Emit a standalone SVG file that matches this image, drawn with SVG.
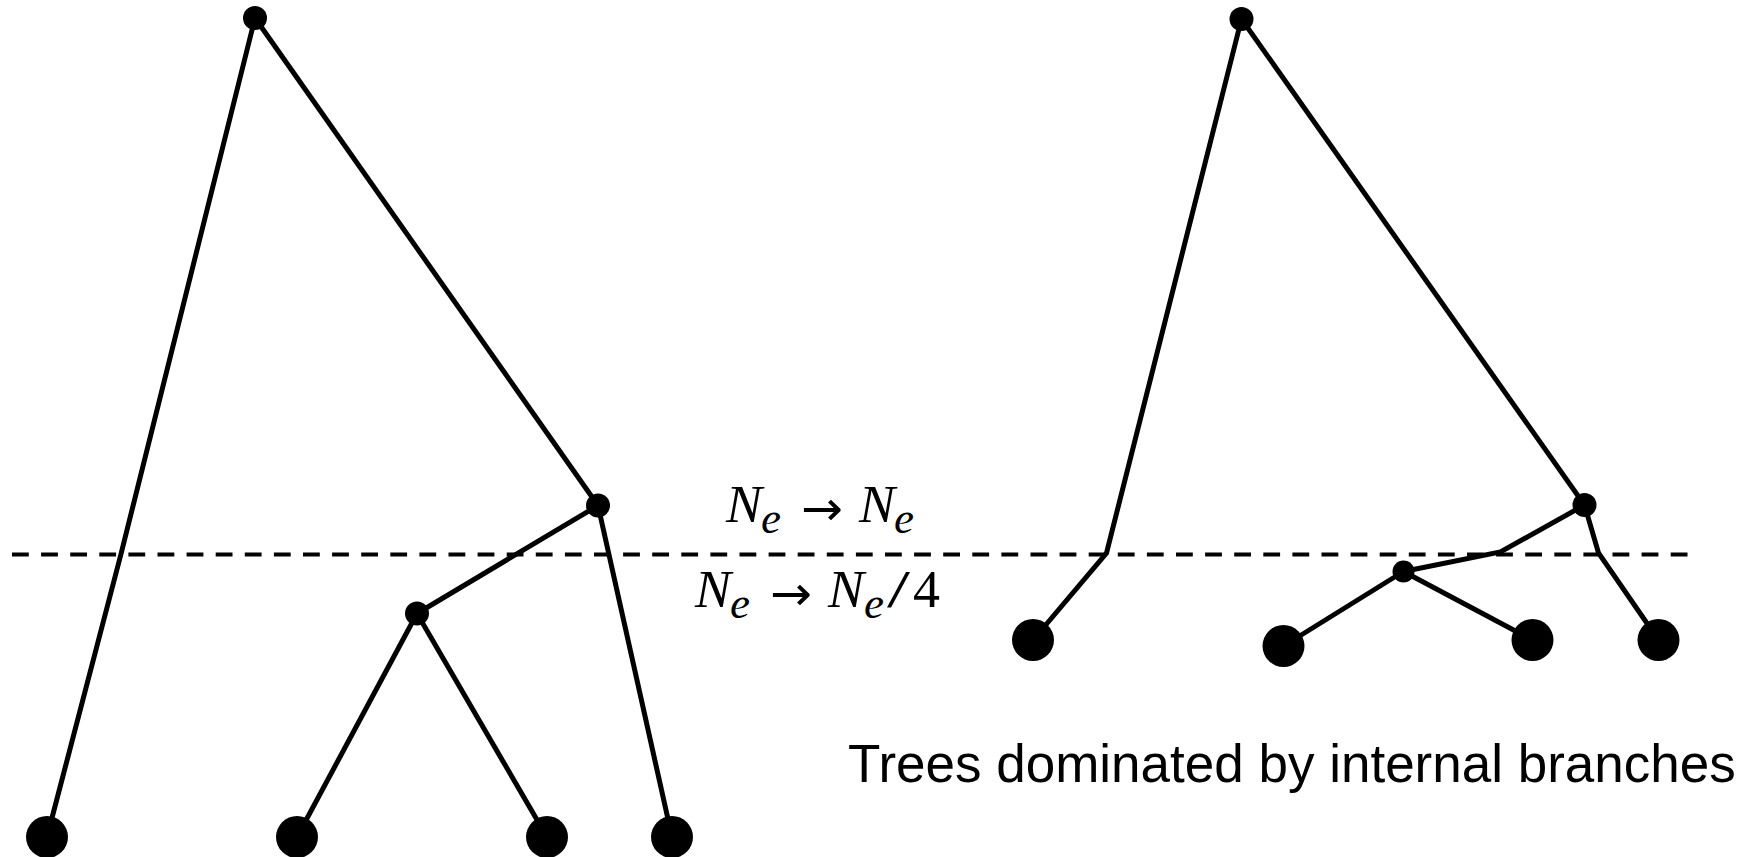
<svg xmlns="http://www.w3.org/2000/svg" width="1760" height="857" viewBox="0 0 1760 857">
<style>
.edge{fill:none;stroke:#000;stroke-width:5;stroke-linejoin:miter}
.dash{fill:none;stroke:#000;stroke-width:4;stroke-dasharray:16.8 12.3}
.node{fill:#000}
.m{font-family:"Liberation Serif","DejaVu Serif",serif;fill:#000}
.ar{font-family:"DejaVu Sans",sans-serif;fill:#000}
.it{font-style:italic}
.cap{font-family:"Liberation Sans",Arial,sans-serif;font-size:53px;fill:#000}
</style>
<rect width="1760" height="857" fill="#fff"/>
<g id="connectors">
<line class="dash" x1="12" y1="554.5" x2="1689" y2="554.5"/>
<polyline class="edge" points="255,18 121,554 47,837"/>
<line class="edge" x1="255" y1="18" x2="598" y2="505.5"/>
<line class="edge" x1="598" y1="505.5" x2="417" y2="613.5"/>
<line class="edge" x1="598" y1="505.5" x2="672" y2="837"/>
<line class="edge" x1="417" y1="613.5" x2="297" y2="837"/>
<line class="edge" x1="417" y1="613.5" x2="547" y2="837"/>
<polyline class="edge" points="1241.5,19 1106.5,553 1033,640"/>
<line class="edge" x1="1241.5" y1="19" x2="1584.5" y2="505"/>
<polyline class="edge" points="1584.5,505 1598.5,553 1658.5,640"/>
<polyline class="edge" points="1584.5,505 1500.5,552 1403.5,571.5"/>
<line class="edge" x1="1403.5" y1="571.5" x2="1283.5" y2="646"/>
<line class="edge" x1="1403.5" y1="571.5" x2="1532.5" y2="640"/>
</g>
<g id="left-root"><circle class="node" cx="255" cy="18" r="12"/></g>
<g id="left-A"><circle class="node" cx="598" cy="505.5" r="12"/></g>
<g id="left-B"><circle class="node" cx="417" cy="613.5" r="12"/></g>
<g id="left-leaf1"><circle class="node" cx="47" cy="837" r="21"/></g>
<g id="left-leaf2"><circle class="node" cx="297" cy="837" r="21"/></g>
<g id="left-leaf3"><circle class="node" cx="547" cy="837" r="21"/></g>
<g id="left-leaf4"><circle class="node" cx="672" cy="837" r="21"/></g>
<g id="right-root"><circle class="node" cx="1241.5" cy="19" r="12"/></g>
<g id="right-A"><circle class="node" cx="1584.5" cy="505" r="12"/></g>
<g id="right-B"><circle class="node" cx="1403.5" cy="571.5" r="11"/></g>
<g id="right-leaf1"><circle class="node" cx="1033" cy="640" r="21"/></g>
<g id="right-leaf2"><circle class="node" cx="1283.5" cy="646" r="21"/></g>
<g id="right-leaf3"><circle class="node" cx="1532.5" cy="640" r="21"/></g>
<g id="right-leaf4"><circle class="node" cx="1658.5" cy="640" r="21"/></g>
<g id="label-top">
<text class="m it" x="726" y="522" font-size="52" textLength="36" lengthAdjust="spacingAndGlyphs">N</text>
<text class="m it" x="761" y="533" font-size="44" textLength="20" lengthAdjust="spacingAndGlyphs">e</text>
<text class="ar" x="801" y="525" font-size="48" textLength="42" lengthAdjust="spacingAndGlyphs">→</text>
<text class="m it" x="859" y="522" font-size="52" textLength="36" lengthAdjust="spacingAndGlyphs">N</text>
<text class="m it" x="894" y="533" font-size="44" textLength="20" lengthAdjust="spacingAndGlyphs">e</text>
</g>
<g id="label-bottom">
<text class="m it" x="695" y="607" font-size="52" textLength="36" lengthAdjust="spacingAndGlyphs">N</text>
<text class="m it" x="730" y="618" font-size="44" textLength="20" lengthAdjust="spacingAndGlyphs">e</text>
<text class="ar" x="770" y="610" font-size="48" textLength="42" lengthAdjust="spacingAndGlyphs">→</text>
<text class="m it" x="828" y="607" font-size="52" textLength="36" lengthAdjust="spacingAndGlyphs">N</text>
<text class="m it" x="864" y="618" font-size="44" textLength="20" lengthAdjust="spacingAndGlyphs">e</text>
<text class="m" x="887" y="607" font-size="52" textLength="23" lengthAdjust="spacingAndGlyphs">/</text>
<text class="m" x="913" y="607" font-size="52" textLength="27" lengthAdjust="spacingAndGlyphs">4</text>
</g>
<g id="caption"><text class="cap" x="848" y="782">Trees dominated by internal branches</text></g>
</svg>
